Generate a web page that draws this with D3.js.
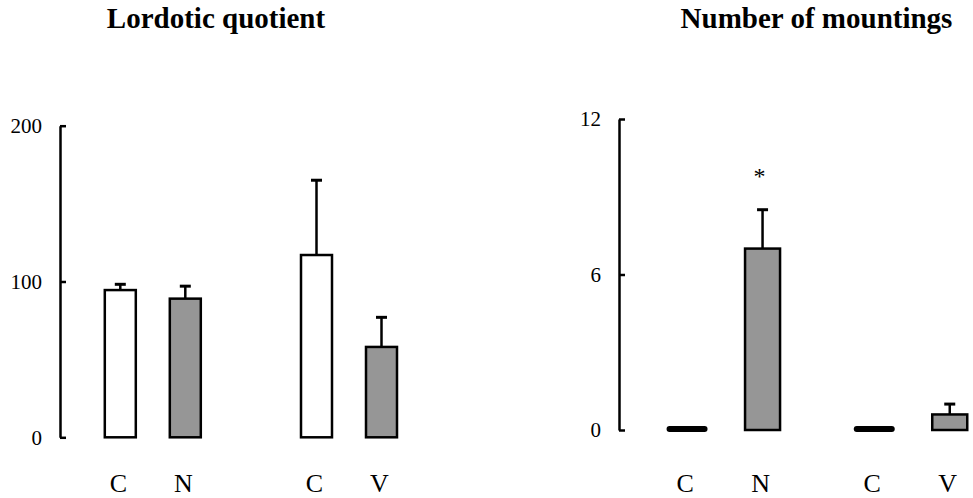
<!DOCTYPE html>
<html>
<head>
<meta charset="utf-8">
<script src="https://cdn.jsdelivr.net/npm/d3@7/dist/d3.min.js"></script>
<style>
  html, body { margin: 0; padding: 0; background: #fff; }
  svg { display: block; }
  text { font-family: "Times New Roman", "Liberation Serif", serif; fill: #000; }
</style>
</head>
<body>
<svg id="chart" width="973" height="498"></svg>
<script>
// Group / bar labels
const groups = ["g1", "g2"];
const barLabelsLQ = ["C", "N", "C", "V"];
const barLabelsMount = ["C", "N", "C", "V"];
const barGroup = ["g1", "g1", "g2", "g2"];
const barSlot = ["ctrl", "trt", "ctrl", "trt"];

// Lordotic quotient: means and SEM
const lqMeans = [94.5, 89, 117, 58];
const lqSem = [3.7, 8, 48, 19];
const lqTicks = [0, 100, 200];

// Number of mountings: means and SEM
const mountMeans = [0, 7.0, 0, 0.6];
const mountSem = [0, 1.5, 0, 0.4];
const mountTicks = [0, 6, 12];
const mountSig = ["", "*", "", ""];

const svg = d3.select("#chart");
const fillFor = { ctrl: "#ffffff", trt: "#969696" };

function panel(cfg) {
  const g = svg.append("g");
  const y = d3.scaleLinear().domain(cfg.domain).range([cfg.yBottom, cfg.yTop]);
  const gx = d3.scalePoint().domain(groups).range(cfg.groupRange);
  const ix = d3.scalePoint().domain(["ctrl", "trt"]).range([-cfg.inner, cfg.inner]);
  const cx = i => gx(barGroup[i]) + ix(barSlot[i]);

  // title
  g.append("text")
    .attr("x", cfg.titleX).attr("y", 28)
    .attr("text-anchor", "middle")
    .attr("font-size", 29).attr("font-weight", "bold")
    .text(cfg.title);

  // y axis with inward ticks
  const axis = g.append("g")
    .attr("transform", `translate(${cfg.axisX},0)`)
    .call(d3.axisLeft(y).tickValues(cfg.ticks).tickSizeInner(-6).tickSizeOuter(0).tickPadding(18));
  axis.select(".domain").attr("stroke", "#000").attr("stroke-width", 2.5);
  axis.selectAll(".tick line").attr("stroke", "#000").attr("stroke-width", 2.5);
  axis.selectAll(".tick text")
    .attr("font-family", "'Times New Roman', 'Liberation Serif', serif")
    .attr("font-size", 21).attr("fill", "#000");

  const idx = d3.range(cfg.means.length);
  const bw = cfg.barW;

  // error bars (upper half only)
  idx.filter(i => cfg.sem[i] > 0).forEach(i => {
    const top = y(cfg.means[i] + cfg.sem[i]);
    g.append("line")
      .attr("x1", cx(i)).attr("x2", cx(i))
      .attr("y1", y(cfg.means[i])).attr("y2", top)
      .attr("stroke", "#000").attr("stroke-width", 2.5);
    g.append("line")
      .attr("x1", cx(i) - 5.5).attr("x2", cx(i) + 5.5)
      .attr("y1", top).attr("y2", top)
      .attr("stroke", "#000").attr("stroke-width", 3);
  });

  // bars with a value
  g.selectAll("rect.bar").data(idx.filter(i => cfg.means[i] > 0)).join("rect")
    .attr("class", "bar")
    .attr("x", i => cx(i) - bw / 2)
    .attr("width", bw)
    .attr("y", i => y(cfg.means[i]))
    .attr("height", i => y(0) - y(cfg.means[i]))
    .attr("fill", i => fillFor[barSlot[i]])
    .attr("stroke", "#000")
    .attr("stroke-width", 2.5);

  // zero-value bars collapse onto a heavy baseline stroke
  g.selectAll("line.zero").data(idx.filter(i => cfg.means[i] === 0)).join("line")
    .attr("class", "zero")
    .attr("x1", i => cx(i) - bw / 2)
    .attr("x2", i => cx(i) + bw / 2)
    .attr("y1", i => y(cfg.means[i]) - 1)
    .attr("y2", i => y(cfg.means[i]) - 1)
    .attr("stroke", "#000")
    .attr("stroke-linecap", "round")
    .attr("stroke-width", 6);

  // significance marks
  if (cfg.sig) {
    idx.filter(i => cfg.sig[i]).forEach(i => {
      g.append("text")
        .attr("x", cx(i) - 3)
        .attr("y", y(cfg.means[i] + cfg.sem[i]) - 26)
        .attr("text-anchor", "middle")
        .attr("font-size", 24)
        .text(cfg.sig[i]);
    });
  }

  // category labels
  g.selectAll("text.cat").data(idx).join("text")
    .attr("class", "cat")
    .attr("x", i => cx(i) - 2)
    .attr("y", 492)
    .attr("text-anchor", "middle")
    .attr("font-size", 26)
    .text(i => cfg.labels[i]);
}

panel({
  title: "Lordotic quotient", titleX: 216,
  domain: [0, 200], yBottom: 437.3, yTop: 125.7, axisX: 60,
  ticks: lqTicks, groupRange: [152.8, 349], inner: 32.5, barW: 31,
  means: lqMeans, sem: lqSem, labels: barLabelsLQ
});

panel({
  title: "Number of mountings", titleX: 816.5,
  domain: [0, 12], yBottom: 430, yTop: 119, axisX: 619,
  ticks: mountTicks, groupRange: [724.8, 912], inner: 37.75, barW: 35,
  means: mountMeans, sem: mountSem, labels: barLabelsMount, sig: mountSig
});
</script>
</body>
</html>
